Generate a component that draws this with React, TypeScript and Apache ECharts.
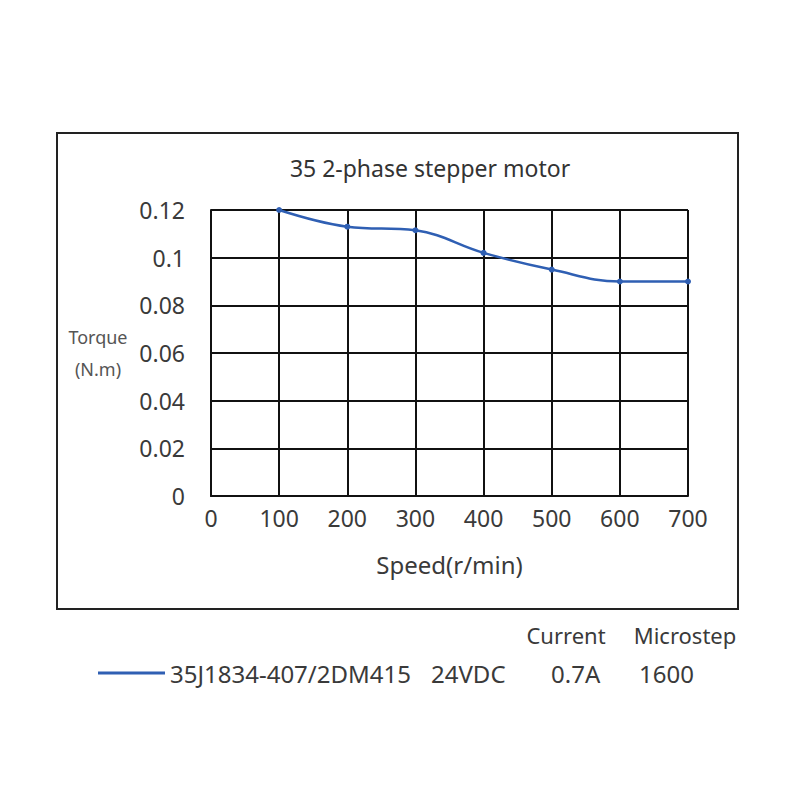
import React, { useEffect, useRef } from "react";
import * as echarts from "echarts";

const speeds = [100, 200, 300, 400, 500, 600, 700];
const torque = [0.12, 0.113, 0.1115, 0.102, 0.095, 0.09, 0.09];
const seriesName = "35J1834-407/2DM415";
const voltage = "24VDC";
const current = "0.7A";
const microstep = "1600";
const titleText = "35 2-phase stepper motor";
const xName = "Speed(r/min)";
const yName = "Torque\n(N.m)";

const FONT = "Noto Sans";
const TXT = "#3a3a3a";
const BLUE = "#2f5fb3";

export default function App() {
  const ref = useRef<HTMLDivElement>(null);
  useEffect(() => {
    if (!ref.current) return;
    const chart = echarts.init(ref.current, undefined, { renderer: "svg" });
    chart.setOption({
      animation: false,
      backgroundColor: "#fff",
      textStyle: { fontFamily: FONT },
      title: {
        text: titleText,
        left: 425,
        top: 151,
        textAlign: "center",
        textStyle: { fontFamily: FONT, fontSize: 23, fontWeight: "normal", color: "#333" },
      },
      grid: { left: 211, right: 112, top: 210, bottom: 304 },
      xAxis: {
        type: "value",
        min: 0,
        max: 700,
        interval: 100,
        name: xName,
        nameLocation: "middle",
        nameGap: 56,
        nameTextStyle: { fontFamily: FONT, fontSize: 24, color: TXT },
        axisLine: { show: true, lineStyle: { color: "#111", width: 2 } },
        axisTick: { show: false },
        axisLabel: { fontFamily: FONT, fontSize: 23, color: TXT, margin: 10 },
        splitLine: { show: true, lineStyle: { color: "#111", width: 2 } },
      },
      yAxis: {
        type: "value",
        min: 0,
        max: 0.12,
        interval: 0.02,
        name: yName,
        nameLocation: "middle",
        nameRotate: 0,
        nameGap: 113,
        nameTextStyle: { fontFamily: FONT, fontSize: 18, color: "#555", align: "center", lineHeight: 32 },
        axisLine: { show: true, lineStyle: { color: "#111", width: 2 } },
        axisTick: { show: false },
        axisLabel: { fontFamily: FONT, fontSize: 23, color: TXT, margin: 26 },
        splitLine: { show: true, lineStyle: { color: "#111", width: 2 } },
      },
      legend: {
        left: 98,
        top: 661,
        padding: 0,
        icon: "rect",
        itemWidth: 67,
        itemHeight: 3,
        data: [seriesName],
        formatter: (name: string) =>
          `{a|${name}}{b|${voltage}}{c|${current}}{d|${microstep}}`,
        textStyle: {
          fontFamily: FONT,
          fontSize: 24,
          color: TXT,
          rich: {
            a: { fontFamily: FONT, fontSize: 24, color: TXT, width: 261, align: "left" },
            b: { fontFamily: FONT, fontSize: 24, color: TXT, width: 120, align: "left" },
            c: { fontFamily: FONT, fontSize: 24, color: TXT, width: 88, align: "left" },
            d: { fontFamily: FONT, fontSize: 24, color: TXT, width: 60, align: "left" },
          },
        },
      },
      graphic: [
        {
          type: "rect",
          shape: { x: 57, y: 133, width: 681, height: 476 },
          style: { fill: "none", stroke: "#222", lineWidth: 2 },
          silent: true,
        },
        {
          type: "text",
          x: 566,
          y: 635,
          style: { text: "Current", fontFamily: FONT, fontSize: 22, fill: TXT, align: "center", verticalAlign: "middle" },
        },
        {
          type: "text",
          x: 685,
          y: 635,
          style: { text: "Microstep", fontFamily: FONT, fontSize: 22, fill: TXT, align: "center", verticalAlign: "middle" },
        },
      ],
      series: [
        {
          name: seriesName,
          type: "line",
          data: speeds.map((s, i) => [s, torque[i]]),
          smooth: 0.4,
          symbol: "circle",
          symbolSize: 6,
          lineStyle: { color: BLUE, width: 2.5 },
          itemStyle: { color: BLUE },
        },
      ],
    });
    return () => chart.dispose();
  }, []);
  return (
    <div
      ref={ref}
      style={{ position: "fixed", left: 0, top: 0, width: 800, height: 800, background: "#fff" }}
    />
  );
}
